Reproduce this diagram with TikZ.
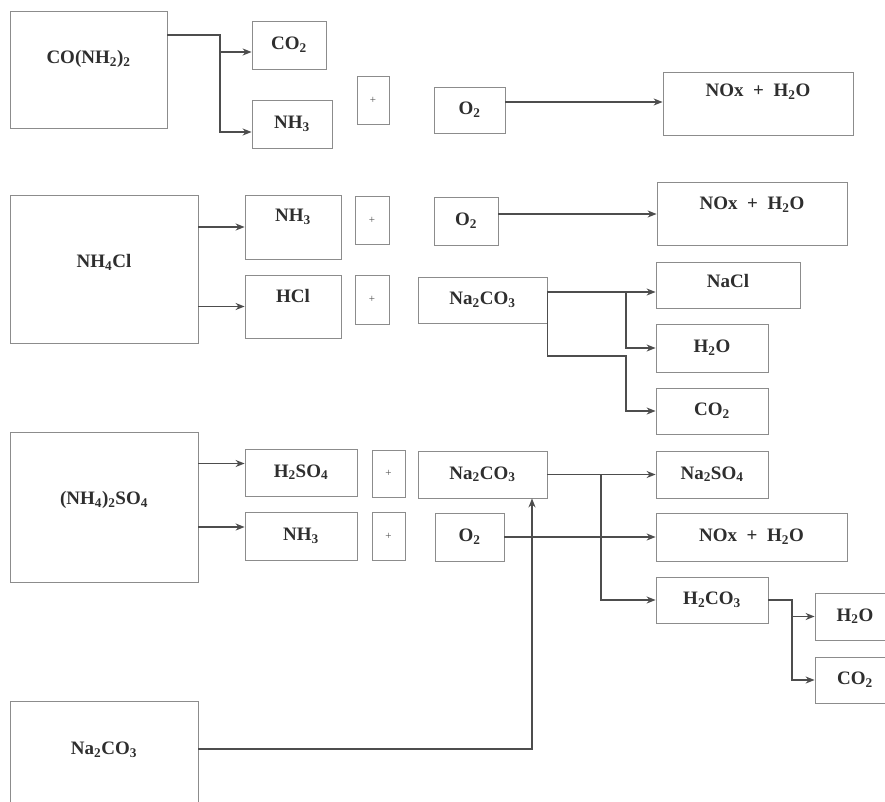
\documentclass[tikz,border=0pt]{standalone}
\usepackage{fontspec}
\setmainfont{Liberation Serif}
\usetikzlibrary{arrows.meta,positioning}
\definecolor{ink}{HTML}{2E2E2E}
\definecolor{wire}{HTML}{4D4D4D}
\definecolor{frame}{HTML}{8C8C8C}
\newcommand{\sbs}[1]{\textsubscript{#1}}
\tikzset{
  sz/.style 2 args={minimum width=#1pt,minimum height=#2pt},
  box/.style={rectangle,draw=frame,line width=0.8pt,fill=white,inner sep=0pt,align=center,text=ink,font=\fontsize{19}{21}\selectfont\bfseries,text height=13pt,text depth=4pt},
  plusbox/.style={rectangle,draw=frame,line width=0.8pt,fill=white,inner sep=0pt,text=wire,font=\fontsize{11}{12}\selectfont},
  lift/.style={text depth=#1},
  arrow/.style={-{Stealth[length=9pt,width=7pt]},line width=1.8pt,wire}
}

\begin{document}
\begin{tikzpicture}[x=1pt,y=-1pt]
    \fill[white] (0,0) rectangle (885,802);
    \useasboundingbox (0,0) rectangle (885,802);
    % urea
    \node[box,sz={157}{117},lift=24pt] (urea) at (88.5,69.5) {CO(NH\sbs{2})\sbs{2}};
    \node[box,sz={74}{48}] (coA) at (289,45) {CO\sbs{2}};
    \node[box,sz={80}{48}] (nhA) at (292,124) {NH\sbs{3}};
    \node[plusbox,sz={32}{48}] (plusA) at (373,100) {+};
    \node[box,sz={71}{46}] (oA) at (469.5,110) {O\sbs{2}};
    \node[box,sz={190}{63},lift=26pt] (noxA) at (758,103.5) {NOx~~+~~H\sbs{2}O};
    \coordinate (ureaJ) at (220,35);
    \draw[arrow] (ureaJ -| urea.east) -- (ureaJ) |- ([yshift=-7pt]coA.west);
    \draw[arrow] (ureaJ) |- ([yshift=-8pt]nhA.west);
    \draw[arrow] ([yshift=8pt]oA.east) -- ([yshift=8pt]oA.east -| noxA.west);
    % ammonium chloride
    \node[box,sz={188}{148},lift=16pt] (nhcl) at (104,269) {NH\sbs{4}Cl};
    \node[box,sz={96}{64},lift=24pt] (nhB) at (293,227) {NH\sbs{3}};
    \node[box,sz={96}{63},lift=22pt] (hcl) at (293,306.5) {HCl};
    \node[plusbox,sz={34}{48}] (plusB) at (372,220) {+};
    \node[plusbox,sz={34}{49}] (plusC) at (372,299.5) {+};
    \node[box,sz={64}{48}] (oB) at (466,221) {O\sbs{2}};
    \node[box,sz={190}{63},lift=20pt] (noxB) at (752,213.5) {NOx~~+~~H\sbs{2}O};
    \node[box,sz={129}{46}] (naB) at (482.5,300) {Na\sbs{2}CO\sbs{3}};
    \node[box,sz={144}{46},lift=8pt] (nacl) at (728,285) {NaCl};
    \node[box,sz={112}{48}] (hoB) at (712,348) {H\sbs{2}O};
    \node[box,sz={112}{46}] (coB) at (712,411) {CO\sbs{2}};
    \draw[arrow] (nhcl.east |- nhB) -- (nhB.west);
    \draw[arrow] (nhcl.east |- hcl) -- (hcl.west);
    \draw[arrow] ([yshift=7pt]oB.east) -- ([yshift=7pt]oB.east -| noxB.west);
    \coordinate (naJ) at ([yshift=8pt]naB.east);
    \coordinate (naK) at (626,292);
    \coordinate (naL) at (626,356);
    \draw[arrow] (naJ) -- (naJ -| nacl.west);
    \draw[arrow] (naK) |- (hoB.west);
    \draw[arrow] (naJ) |- (naL) |- (coB.west);
    % ammonium sulfate
    \node[box,sz={188}{150},lift=18pt] (sulf) at (104,507) {(NH\sbs{4})\sbs{2}SO\sbs{4}};
    \node[box,sz={112}{47}] (hso) at (301,472.5) {H\sbs{2}SO\sbs{4}};
    \node[box,sz={112}{48}] (nhC) at (301,536) {NH\sbs{3}};
    \node[plusbox,sz={33}{47}] (plusD) at (388.5,473.5) {+};
    \node[plusbox,sz={33}{48}] (plusE) at (388.5,536) {+};
    \node[box,sz={129}{47}] (naC) at (482.5,474.5) {Na\sbs{2}CO\sbs{3}};
    \node[box,sz={69}{48}] (oC) at (469.5,537) {O\sbs{2}};
    \node[box,sz={112}{47}] (naso) at (712,474.5) {Na\sbs{2}SO\sbs{4}};
    \node[box,sz={191}{48}] (noxC) at (751.5,537) {NOx~~+~~H\sbs{2}O};
    \node[box,sz={112}{46}] (hco) at (712,600) {H\sbs{2}CO\sbs{3}};
    \node[box,sz={80}{47}] (hoC) at (855,616.5) {H\sbs{2}O};
    \node[box,sz={80}{46}] (coC) at (855,680) {CO\sbs{2}};
    \draw[arrow] ([yshift=9pt]hso.west -| sulf.east) -- ([yshift=9pt]hso.west);
    \draw[arrow] ([yshift=9pt]nhC.west -| sulf.east) -- ([yshift=9pt]nhC.west);
    \draw[arrow] (naC.east) -- (naso.west);
    \coordinate (sJ) at (601,474.5);
    \draw[arrow] (sJ) |- (hco.west);
    \draw[arrow] (oC.east) -- (noxC.west);
    \coordinate (hJ) at (792,600);
    \draw[arrow] (hco.east) -- (hJ) |- (hoC.west);
    \draw[arrow] (hJ) |- (coC.west);
    % sodium carbonate feed
    \node[box,sz={188}{114},lift=20pt] (naD) at (104,758) {Na\sbs{2}CO\sbs{3}};
    \draw[arrow] ([yshift=9pt]naD.east) -| ([xshift=49.5pt]naC.south);
  \end{tikzpicture}
\end{document}
